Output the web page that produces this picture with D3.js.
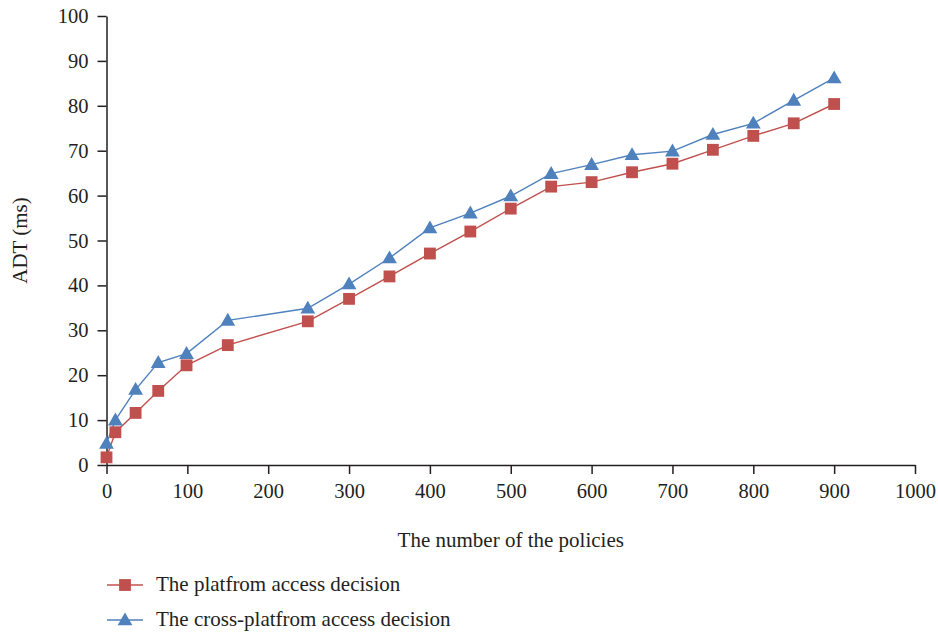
<!DOCTYPE html>
<html>
<head>
<meta charset="utf-8">
<script src="https://cdn.jsdelivr.net/npm/d3@7"></script>
<style>
  html, body { margin: 0; padding: 0; background: #fff; }
  svg { display: block; }
  text { font-family: "Liberation Serif", "DejaVu Serif", serif; fill: #231f20; }
</style>
</head>
<body>
<svg id="chart" width="938" height="635"></svg>
<script>
const policies = [0, 11, 36, 64, 99, 150, 249, 300, 350, 400, 450, 500, 550, 600, 650, 700, 750, 800, 850, 900];
const platformADT = [1.7, 7.3, 11.6, 16.5, 22.2, 26.7, 32.0, 37.0, 42.0, 47.1, 52.0, 57.1, 62.0, 63.0, 65.2, 67.1, 70.2, 73.3, 76.1, 80.4];
const crossPlatformADT = [4.8, 10.0, 16.8, 22.8, 24.8, 32.2, 34.9, 40.3, 46.1, 52.8, 56.1, 59.9, 64.9, 66.9, 69.1, 69.9, 73.6, 76.1, 81.2, 86.2];
const xTicks = [0, 100, 200, 300, 400, 500, 600, 700, 800, 900, 1000];
const yTicks = [0, 10, 20, 30, 40, 50, 60, 70, 80, 90, 100];
const seriesNames = ["The platfrom access decision", "The cross-platfrom access decision"];
const seriesColors = ["#C0504D", "#4F81BD"];
const xTitle = "The number of the policies";
const yTitle = "ADT (ms)";

const svg = d3.select("#chart");
const x = d3.scaleLinear().domain([0, 1000]).range([106.5, 915]);
const y = d3.scaleLinear().domain([0, 100]).range([465, 16]);

const axisColor = "#231f20";
const tickFont = 20.5;
const titleFont = 21;

// Y axis
const yAxis = svg.append("g")
  .attr("transform", `translate(${x(0)},0)`)
  .call(d3.axisLeft(y).tickValues(yTicks).tickFormat(d3.format("d")).tickSize(9).tickSizeOuter(0).tickPadding(9));
yAxis.select(".domain").attr("stroke", axisColor).attr("stroke-width", 1.5);
yAxis.selectAll(".tick line").attr("stroke", axisColor).attr("stroke-width", 1.5);
yAxis.selectAll(".tick text").attr("font-size", tickFont).attr("font-family", "Liberation Serif").attr("fill", axisColor);

// X axis
const xAxis = svg.append("g")
  .attr("transform", `translate(0,${y(0)})`)
  .call(d3.axisBottom(x).tickValues(xTicks).tickFormat(d3.format("d")).tickSize(9).tickSizeOuter(0).tickPadding(9));
xAxis.select(".domain").attr("stroke", axisColor).attr("stroke-width", 1.5);
xAxis.selectAll(".tick line").attr("stroke", axisColor).attr("stroke-width", 1.5);
xAxis.selectAll(".tick text").attr("font-size", tickFont).attr("font-family", "Liberation Serif").attr("fill", axisColor);

// Axis titles
svg.append("text")
  .attr("x", (x(0) + x(1000)) / 2)
  .attr("y", 547)
  .attr("text-anchor", "middle")
  .attr("font-size", titleFont)
  .text(xTitle);

svg.append("text")
  .attr("transform", `translate(27,${(y(0) + y(100)) / 2}) rotate(-90)`)
  .attr("text-anchor", "middle")
  .attr("font-size", titleFont)
  .text(yTitle);

const line = d3.line().x(d => x(d[0])).y(d => y(d[1]));
const dataSets = [
  policies.map((p, i) => [p, platformADT[i]]),
  policies.map((p, i) => [p, crossPlatformADT[i]])
];

const sq = d3.symbol().type(d3.symbolSquare).size(140);
const tri = d3.symbol().type(d3.symbolTriangle).size(95);

// Draw series lines
dataSets.forEach((data, si) => {
  svg.append("path")
    .datum(data)
    .attr("fill", "none")
    .attr("stroke", seriesColors[si])
    .attr("stroke-width", 1.4)
    .attr("d", line);
});

// Markers
dataSets.forEach((data, si) => {
  svg.append("g").selectAll("path")
    .data(data)
    .join("path")
    .attr("transform", d => `translate(${x(d[0])},${y(d[1]) + (si === 1 ? 1 : 0)})`)
    .attr("d", si === 0 ? sq : tri)
    .attr("fill", seriesColors[si]);
});

// Legend
const legendY = [585, 620];
seriesNames.forEach((name, i) => {
  const g = svg.append("g");
  g.append("line")
    .attr("x1", 107).attr("x2", 143)
    .attr("y1", legendY[i]).attr("y2", legendY[i])
    .attr("stroke", seriesColors[i]).attr("stroke-width", 1.4);
  g.append("path")
    .attr("transform", `translate(125,${legendY[i] + (i === 1 ? 1 : 0)})`)
    .attr("d", i === 0 ? sq : tri)
    .attr("fill", seriesColors[i]);
  g.append("text")
    .attr("x", 156)
    .attr("y", legendY[i] + 6)
    .attr("font-size", titleFont)
    .text(name);
});
</script>
</body>
</html>
